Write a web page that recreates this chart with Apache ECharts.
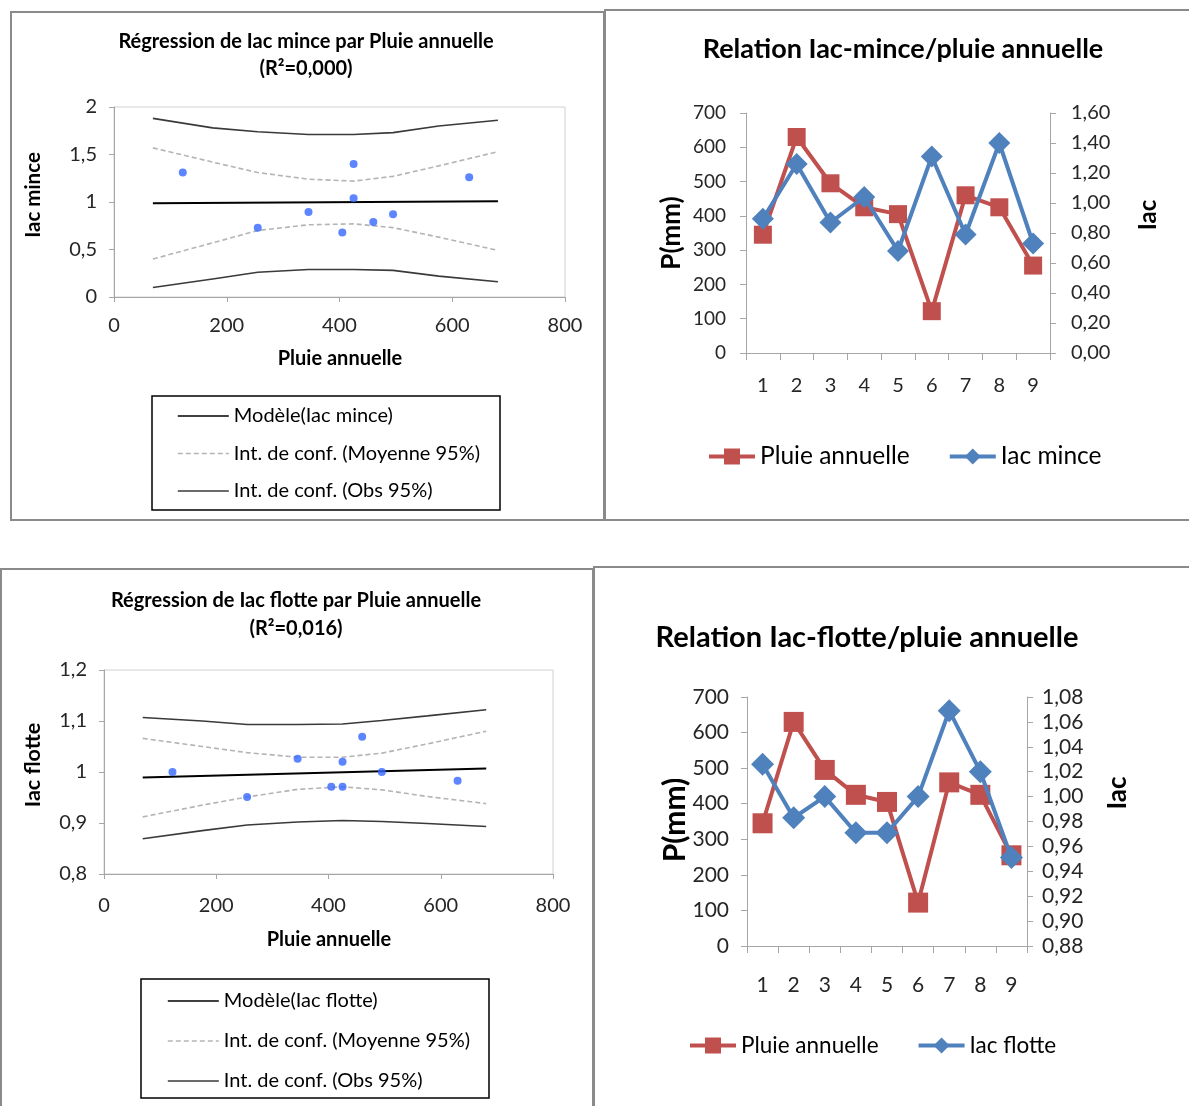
<!DOCTYPE html>
<html><head><meta charset="utf-8">
<script src="https://cdn.jsdelivr.net/npm/echarts@6/dist/echarts.min.js"></script>
<style>html,body{margin:0;padding:0;background:#fff}#c{width:1189px;height:1106px}</style>
</head><body><div id="c"></div>
<script>
// ---- data ----
const months = ['1','2','3','4','5','6','7','8','9'];
const pluieAnnuelle = [345, 630, 495, 425, 405, 122, 460, 425, 255];
const iacMince = [0.895, 1.26, 0.87, 1.04, 0.68, 1.31, 0.79, 1.40, 0.73];
const iacFlotte = [1.026, 0.983, 1.0, 0.971, 0.971, 1.0, 1.069, 1.020, 0.951];

const modelX = [69, 681];
const minceModel = [0.987, 1.007];
const flotteModel = [0.989, 1.007];

const ciX = [69, 175, 255, 345, 425, 495, 576, 681];
const minceMeanUp = [1.57, 1.42, 1.31, 1.24, 1.22, 1.27, 1.38, 1.53];
const minceMeanLo = [0.40, 0.57, 0.70, 0.76, 0.77, 0.73, 0.63, 0.49];
const minceObsUp  = [1.88, 1.78, 1.74, 1.71, 1.71, 1.73, 1.80, 1.86];
const minceObsLo  = [0.10, 0.19, 0.26, 0.29, 0.29, 0.28, 0.22, 0.16];
const flotteMeanUp = [1.066, 1.050, 1.038, 1.029, 1.029, 1.037, 1.055, 1.080];
const flotteMeanLo = [0.912, 0.935, 0.951, 0.966, 0.971, 0.965, 0.952, 0.938];
const flotteObsUp  = [1.107, 1.100, 1.093, 1.093, 1.094, 1.101, 1.110, 1.122];
const flotteObsLo  = [0.869, 0.885, 0.896, 0.902, 0.905, 0.903, 0.899, 0.893];

const regXTicks = [0, 200, 400, 600, 800];
const minceYTicks = [0, 0.5, 1, 1.5, 2];
const flotteYTicks = [0.8, 0.9, 1.0, 1.1, 1.2];
const pluieTicks = [0, 100, 200, 300, 400, 500, 600, 700];
const iacMinceRTicks = [0, 0.2, 0.4, 0.6, 0.8, 1.0, 1.2, 1.4, 1.6];
const iacFlotteRTicks = [0.88, 0.90, 0.92, 0.94, 0.96, 0.98, 1.00, 1.02, 1.04, 1.06, 1.08];

// ---- helpers ----
const FONT = 'Lato, "Open Sans", sans-serif';
const RED = '#C0504D', BLUE = '#4F81BD', DOT = '#3366ff';
const pair = (xs, ys) => xs.map((x, i) => [x, ys[i]]);
const rng = t => ({min: t[0], max: t[t.length-1], interval: +(t[1]-t[0]).toFixed(4)});
const comma = d => v => (d == null ? String(+(+v).toFixed(3)) : (+v).toFixed(d)).replace('.', ',');
const axLine = {lineStyle:{color:'#a6a6a6', width:1}};

function regX(grid, size, margin) {
  return {type:'value', gridIndex:grid, ...rng(regXTicks),
    axisLine:{show:true, onZero:false, ...axLine}, axisTick:{show:true, length:5, lineStyle:{color:'#a6a6a6'}},
    splitLine:{show:false}, axisLabel:{color:'#262626', fontSize:size, fontFamily:FONT, margin}};
}
function regY(grid, ticks, size, margin) {
  return {type:'value', gridIndex:grid, ...rng(ticks),
    axisLine:{show:true, onZero:false, ...axLine}, axisTick:{show:true, length:5, lineStyle:{color:'#a6a6a6'}},
    splitLine:{show:false}, axisLabel:{color:'#262626', fontSize:size, fontFamily:FONT, margin, formatter:comma(null)}};
}
function lineSer(name, xi, yi, xs, ys, color, type, w) {
  return {name, type:'line', xAxisIndex:xi, yAxisIndex:yi, data:pair(xs, ys), symbol:'none',
    lineStyle:{color, width:w, type}, itemStyle:{color}, silent:true, z:2};
}
function regSeries(xi, yi, modelName, model, mUp, mLo, oUp, oLo, pts) {
  return [
    lineSer(modelName, xi, yi, modelX, model, '#000', 'solid', 2),
    lineSer('Int. de conf. (Moyenne 95%)', xi, yi, ciX, mUp, '#b4b4b4', [5,3], 1.6),
    lineSer('Int. de conf. (Moyenne 95%)', xi, yi, ciX, mLo, '#b4b4b4', [5,3], 1.6),
    lineSer('Int. de conf. (Obs 95%)', xi, yi, ciX, oUp, '#3a3a3a', 'solid', 1.6),
    lineSer('Int. de conf. (Obs 95%)', xi, yi, ciX, oLo, '#3a3a3a', 'solid', 1.6),
    {name:'obs-'+modelName, type:'scatter', xAxisIndex:xi, yAxisIndex:yi, data:pair(pluieAnnuelle, pts),
     symbolSize:8, itemStyle:{color:DOT}, z:3}
  ];
}
function catX(grid, size, margin) {
  return {type:'category', gridIndex:grid, data:months, boundaryGap:true,
    axisLine:{show:true, ...axLine}, axisTick:{show:true, length:7, lineStyle:{color:'#a6a6a6'}},
    axisLabel:{color:'#262626', fontSize:size, fontFamily:FONT, margin}};
}
function valY(grid, ticks, size, margin, pos, fmt) {
  return {type:'value', gridIndex:grid, position:pos, ...rng(ticks),
    axisLine:{show:true, onZero:false, ...axLine}, axisTick:{show:true, length:6, lineStyle:{color:'#a6a6a6'}},
    splitLine:{show:false}, axisLabel:{color:'#262626', fontSize:size, fontFamily:FONT, margin, formatter:fmt}};
}
function pSeries(xi, yi, vals, sz) {
  return {name:'Pluie annuelle', type:'line', xAxisIndex:xi, yAxisIndex:yi, data:vals,
    symbol:'rect', symbolSize:sz, lineStyle:{color:RED, width:4}, itemStyle:{color:RED}, z:3};
}
function iSeries(name, xi, yi, vals, sz) {
  return {name, type:'line', xAxisIndex:xi, yAxisIndex:yi, data:vals,
    symbol:'diamond', symbolSize:sz, lineStyle:{color:BLUE, width:4}, itemStyle:{color:BLUE}, z:4};
}
function txt(x, y, s, size, rot) {
  return {type:'text', x, y, rotation: rot ? Math.PI/2 : 0,
    style:{text:s, fontSize:size, fontWeight:'bold', fontFamily:FONT, fill:'#000', align:'center', verticalAlign:'middle'}};
}
function rect(x, y, w, h, color, lw) {
  return {type:'rect', shape:{x, y, width:w, height:h}, style:{fill:'none', stroke:color, lineWidth:lw}, silent:true};
}
function regLegend(left, top, gap, names) {
  return {orient:'vertical', left, top, padding:0, itemWidth:51, itemHeight:12, itemGap:gap,
    data:names, itemStyle:{opacity:0}, lineStyle:{width:1.6},
    textStyle:{fontSize:20, lineHeight:20, fontFamily:FONT, color:'#000'}, selectedMode:false};
}
function lineLegend(left, top, size, names) {
  return {orient:'horizontal', left, top, padding:0, itemWidth:46, itemHeight:20, itemGap:38,
    data:names, lineStyle:{width:4}, textStyle:{fontSize:size, fontFamily:FONT, color:'#000'}, selectedMode:false};
}

const chart = echarts.init(document.getElementById('c'), null, {renderer:'canvas'});
chart.setOption({
  animation:false,
  backgroundColor:'#fff',
  title:[
    {text:'Régression de Iac mince par Pluie annuelle\n(R²=0,000)', left:306, top:28, padding:0, textAlign:'center',
     textStyle:{fontSize:20, fontWeight:'bold', fontFamily:FONT, color:'#000', lineHeight:27}},
    {text:'Relation Iac-mince/pluie annuelle', left:903, top:34, padding:0, textAlign:'center',
     textStyle:{fontSize:27, fontWeight:'bold', fontFamily:FONT, color:'#000', lineHeight:30}},
    {text:'Régression de Iac flotte par Pluie annuelle\n(R²=0,016)', left:296, top:587, padding:0, textAlign:'center',
     textStyle:{fontSize:20, fontWeight:'bold', fontFamily:FONT, color:'#000', lineHeight:28}},
    {text:'Relation Iac-flotte/pluie annuelle', left:867, top:621, padding:0, textAlign:'center',
     textStyle:{fontSize:29, fontWeight:'bold', fontFamily:FONT, color:'#000', lineHeight:34}}
  ],
  grid:[
    {left:114, top:107, width:451, height:190, show:true, borderColor:'#d0d0d0', borderWidth:1},
    {left:746, top:113, width:304, height:240},
    {left:104, top:670, width:449, height:204, show:true, borderColor:'#d0d0d0', borderWidth:1},
    {left:747, top:697, width:280, height:249}
  ],
  xAxis:[ regX(0, 20, 19), catX(1, 20, 23), regX(2, 20, 22), catX(3, 21, 29) ],
  yAxis:[
    regY(0, minceYTicks, 20, 17),
    valY(1, pluieTicks, 19, 20, 'left', comma(null)),
    valY(1, iacMinceRTicks, 20, 21, 'right', comma(2)),
    regY(2, flotteYTicks, 20, 17),
    valY(3, pluieTicks, 21, 18, 'left', comma(null)),
    valY(3, iacFlotteRTicks, 21, 15, 'right', comma(2))
  ],
  legend:[
    regLegend(177, 406, 17.5, ['Modèle(Iac mince)','Int. de conf. (Moyenne 95%)','Int. de conf. (Obs 95%)']),
    lineLegend(707, 444, 24.5, ['Pluie annuelle','Iac mince']),
    regLegend(167, 991, 20, ['Modèle(Iac flotte)','Int. de conf. (Moyenne 95%)','Int. de conf. (Obs 95%)']),
    lineLegend(688, 1034, 22.5, ['Pluie annuelle','Iac flotte'])
  ],
  series:[
    ...regSeries(0, 0, 'Modèle(Iac mince)', minceModel, minceMeanUp, minceMeanLo, minceObsUp, minceObsLo, iacMince),
    pSeries(1, 1, pluieAnnuelle, 18),
    iSeries('Iac mince', 1, 2, iacMince, 22),
    ...regSeries(2, 3, 'Modèle(Iac flotte)', flotteModel, flotteMeanUp, flotteMeanLo, flotteObsUp, flotteObsLo, iacFlotte),
    pSeries(3, 4, pluieAnnuelle, 20),
    iSeries('Iac flotte', 3, 5, iacFlotte, 23)
  ],
  graphic:[
    rect(11, 12, 593, 508, '#8a8a8a', 2),
    rect(605, 10, 620, 510, '#8a8a8a', 2),
    rect(1, 569, 592, 560, '#8a8a8a', 2),
    rect(594, 567, 620, 560, '#8a8a8a', 2),
    rect(152, 396, 348, 114, '#000', 1.5),
    rect(141, 979, 348, 119, '#000', 1.5),
    txt(33, 195, 'Iac mince', 20.5, true),
    txt(340, 359, 'Pluie annuelle', 20, false),
    txt(33, 765, 'Iac flotte', 21.5, true),
    txt(329, 940, 'Pluie annuelle', 20, false),
    txt(672, 233, 'P(mm)', 26, true),
    txt(1148, 215, 'Iac', 24, true),
    txt(675, 820, 'P(mm)', 30, true),
    txt(1118, 793, 'Iac', 26, true)
  ]
});
</script></body></html>
